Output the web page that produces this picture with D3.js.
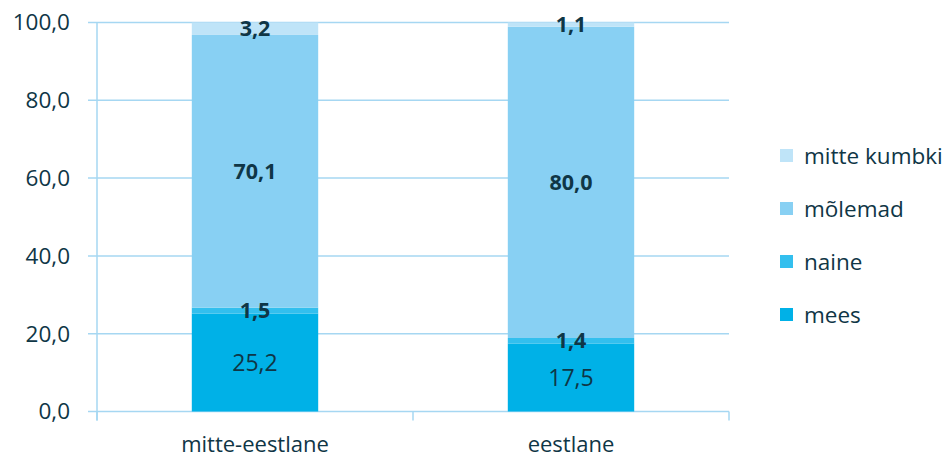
<!DOCTYPE html>
<html>
<head>
<meta charset="utf-8">
<script src="https://cdn.jsdelivr.net/npm/d3@7"></script>
<style>
  body { margin: 0; background: #fff; }
  text { font-family: "Open Sans", sans-serif; fill: #0f3646; }
</style>
</head>
<body>
<div id="chart"></div>
<script>
var categories = ["mitte-eestlane", "eestlane"];
var seriesNames = ["mees", "naine", "mõlemad", "mitte kumbki"];
var mees = [25.2, 17.5];
var naine = [1.5, 1.4];
var molemad = [70.1, 80.0];
var mitteKumbki = [3.2, 1.1];
var yTicks = [0, 20, 40, 60, 80, 100];

var colors = ["#00b1e7", "#33bfee", "#88d0f3", "#bfe4f8"];
var boldLabel = [false, true, true, true];

var margin = { left: 97, right: 218, top: 22.5, bottom: 45.5 };
var width = 947 - margin.left - margin.right;
var height = 457 - margin.top - margin.bottom;

var svg = d3.select("#chart")
  .append("svg")
  .attr("width", 947)
  .attr("height", 457);

var g = svg.append("g")
  .attr("transform", "translate(" + margin.left + ", " + margin.top + ")");

var rows = categories.map(function (c, i) {
  return { cat: c, mees: mees[i], naine: naine[i], "mõlemad": molemad[i], "mitte kumbki": mitteKumbki[i] };
});

var stack = d3.stack().keys(seriesNames);
var layers = stack(rows);

var x = d3.scaleBand()
  .domain(categories)
  .range([0, width])
  .paddingInner(0.6)
  .paddingOuter(0.3);

var y = d3.scaleLinear()
  .domain([0, 100])
  .range([height, 0]);

// gridlines
g.selectAll(".grid")
  .data(yTicks)
  .enter()
  .append("line")
  .attr("x1", -9)
  .attr("x2", width)
  .attr("y1", function (d) { return y(d); })
  .attr("y2", function (d) { return y(d); })
  .attr("stroke", "#a6d7f2")
  .attr("stroke-width", 1.5);

// y axis line
g.append("line")
  .attr("x1", 0).attr("x2", 0)
  .attr("y1", 0).attr("y2", height + 9)
  .attr("stroke", "#a6d7f2")
  .attr("stroke-width", 1.5);

// x category ticks
g.selectAll(".xtick")
  .data([0, width / 2, width])
  .enter()
  .append("line")
  .attr("x1", function (d) { return d; })
  .attr("x2", function (d) { return d; })
  .attr("y1", height)
  .attr("y2", height + 9)
  .attr("stroke", "#a6d7f2")
  .attr("stroke-width", 1.5);

// y labels
g.selectAll(".ylab")
  .data(yTicks)
  .enter()
  .append("text")
  .attr("x", -27)
  .attr("y", function (d) { return y(d); })
  .attr("dy", "0.35em")
  .attr("text-anchor", "end")
  .attr("font-size", "22.5px")
  .text(function (d) { return d3.format(".1f")(d).replace(".", ","); });

// bars
layers.forEach(function (layer, li) {
  g.selectAll(".bar" + li)
    .data(layer)
    .enter()
    .append("rect")
    .attr("x", function (d) { return x(d.data.cat); })
    .attr("width", x.bandwidth())
    .attr("y", function (d) { return y(d[1]); })
    .attr("height", function (d) { return y(d[0]) - y(d[1]); })
    .attr("fill", colors[li]);
});

// value labels
layers.forEach(function (layer, li) {
  g.selectAll(".lab" + li)
    .data(layer)
    .enter()
    .append("text")
    .attr("x", function (d) { return x(d.data.cat) + x.bandwidth() / 2; })
    .attr("y", function (d) { return y((d[0] + d[1]) / 2); })
    .attr("dy", "0.35em")
    .attr("text-anchor", "middle")
    .attr("font-size", boldLabel[li] ? "21.5px" : "23px")
    .attr("font-weight", boldLabel[li] ? "bold" : "normal")
    .text(function (d) { return d3.format(".1f")(d[1] - d[0]).replace(".", ","); });
});

// x labels
g.selectAll(".xlab")
  .data(categories)
  .enter()
  .append("text")
  .attr("x", function (d) { return x(d) + x.bandwidth() / 2; })
  .attr("y", height + 33)
  .attr("dy", "0.35em")
  .attr("text-anchor", "middle")
  .attr("font-size", "22px")
  .text(function (d) { return d; });

// legend
var legendNames = seriesNames.slice().reverse();
var legend = svg.append("g")
  .attr("transform", "translate(780, 156)");

var item = legend.selectAll(".item")
  .data(legendNames)
  .enter()
  .append("g")
  .attr("transform", function (d, i) { return "translate(0, " + (i * 53) + ")"; });

item.append("rect")
  .attr("x", 0)
  .attr("y", -7)
  .attr("width", 13)
  .attr("height", 13)
  .attr("fill", function (d) { return colors[seriesNames.indexOf(d)]; });

item.append("text")
  .attr("x", 24)
  .attr("y", 0)
  .attr("dy", "0.35em")
  .attr("font-size", "22.5px")
  .text(function (d) { return d; });
</script>
</body>
</html>
